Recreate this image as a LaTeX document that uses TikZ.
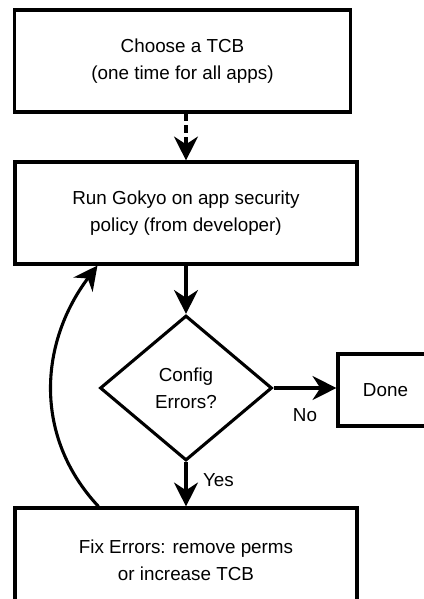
\documentclass[tikz,border=0pt]{standalone}
\usepackage{fontspec}
\setmainfont{Liberation Sans}
\usetikzlibrary{arrows.meta}
\usetikzlibrary{shapes.geometric}
\usetikzlibrary{calc,positioning}

\begin{document}
\begin{tikzpicture}[>={Stealth[length=17pt,width=17pt,inset=5.5pt]},
    line width=2.2pt,
    every node/.style={font=\fontsize{13.4pt}{19.2pt}\selectfont},
    stepbox/.style={draw, rectangle, align=center, inner sep=0pt},
    decision/.style={draw, diamond, align=center, inner sep=0pt, aspect=1.19}]
    \useasboundingbox (0,0) rectangle (10.6,-14.975);
    \clip (0,0) rectangle (10.6,-14.975);

    \node[stepbox, minimum width=8.4cm, minimum height=2.55cm] (tcb) at (4.5625,-1.525) {Choose a TCB\\(one time for all apps)};
    \node[stepbox, minimum width=8.55cm, minimum height=2.55cm] (gokyo) at (4.65,-5.325) {Run Gokyo on app security\\policy (from developer)};
    \node[decision, minimum width=4.3cm, minimum height=3.625cm] (config) at (4.65,-9.7) {Config\\Errors?};
    \node[stepbox, minimum width=2.375cm, minimum height=1.8cm] (done) at (9.6375,-9.75) {Done};
    \node[stepbox, minimum width=8.55cm, minimum height=2.6cm] (fix) at (4.65,-14.0) {Fix Errors: remove perms\\or increase TCB};

    \draw[->, dash pattern=on 5.5pt off 3pt] (gokyo.north |- tcb.south) -- (gokyo.north);
    \draw[->] (gokyo) -- (config);
    \draw[->] (config.east) -- node[below=0.37cm]{No} (done.west |- config.east);
    \draw[->] (config) -- node[right=0.27cm, pos=0.4]{Yes} (fix);

    % back from the fix to the next run
    \draw[->] ([xshift=2.125cm]fix.north west) to[out=133, in=233, looseness=1.02] ([xshift=2.1cm]gokyo.south west);

\end{tikzpicture}
\end{document}
